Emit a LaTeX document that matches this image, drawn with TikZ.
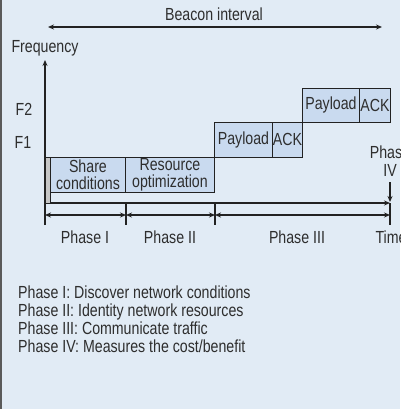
\documentclass[tikz,border=0pt]{standalone}
\usepackage{fontspec}
\setmainfont{Liberation Sans}[FakeStretch=0.81]
\usetikzlibrary{arrows.meta}
\definecolor{panelbg}{HTML}{E1EBF5}
\definecolor{boxfill}{HTML}{C9DAEF}
\definecolor{ink}{HTML}{222222}
\definecolor{txt}{HTML}{2E2E2E}
\definecolor{edge}{HTML}{5A5A5A}
\begin{document}
\begin{tikzpicture}[x=1pt,y=-1pt,
  font=\fontsize{17.5}{18}\selectfont,
  every node/.style={text=txt},
  label/.style={inner sep=0pt, anchor=base},
  slot/.style={draw=ink, line width=0.9pt, fill=boxfill, inner sep=0pt,
    align=center, anchor=north west},
  axis/.style={draw=ink, line width=1.4pt, -{Stealth[length=6pt,width=5pt]}},
  span/.style={draw=ink, line width=1.4pt,
    {Stealth[length=6pt,width=5pt]}-{Stealth[length=6pt,width=5pt]}},
  tick/.style={draw=ink, line width=1.4pt}]
\useasboundingbox (0,0) rectangle (400,409);
\clip (0,0) rectangle (400,409);
% panel
\fill[panelbg] (0,0) rectangle (400,409);
\fill[edge] (0,0) rectangle (2,409);

% beacon interval
\node[label] (beacon) at (214,21) {Beacon interval};
\coordinate (bL) at (48,27);
\coordinate (bR) at (382,27);
\draw[span] (bL) -- (bR);

% axes
\node[label] (freq) at (45,53) {Frequency};
\coordinate (origin) at (45,203);
\coordinate (ftop) at (45,60);
\coordinate (fbot) at (45,225);
\coordinate (tend) at (390,203);
\draw[axis] (fbot) -- (ftop);
\draw[axis] (origin) -- (tend);
\node[label] (f2) at (24,115) {F2};
\node[label] (f1) at (23,148) {F1};

% slots
\filldraw[fill=gray!45, draw=ink, line width=0.8pt] (45,157) rectangle (50,203);
\node[slot, minimum width=75pt, minimum height=35pt] (share) at (50,157)
  {Share\\[-1pt]conditions};
\node[slot, minimum width=89pt, minimum height=35pt] (res) at (125,157)
  {Resource\\[-1pt]optimization};
\node[slot, minimum width=58pt, minimum height=35pt] (pay1) at (214,122) {Payload};
\node[slot, minimum width=30pt, minimum height=35pt] (ack1) at (272,122) {ACK};
\node[slot, minimum width=57pt, minimum height=34pt] (pay2) at (302,88) {Payload};
\node[slot, minimum width=31pt, minimum height=34pt] (ack2) at (359,88) {ACK};

% phase ticks and spans
\coordinate (t0) at (45,215);
\coordinate (t1) at (126,215);
\coordinate (t2) at (215,215);
\coordinate (t3) at (390,215);
\coordinate (k1a) at (126,203); \coordinate (k1b) at (126,225);
\coordinate (k2a) at (215,203); \coordinate (k2b) at (215,225);
\coordinate (k3a) at (390,203); \coordinate (k3b) at (390,225);
\draw[tick] (k1a) -- (k1b);
\draw[tick] (k2a) -- (k2b);
\draw[tick] (k3a) -- (k3b);
\draw[span] (t0) -- (t1);
\draw[span] (t1) -- (t2);
\draw[span] (t2) -- (t3);

% phase IV marker (base anchor sits on the last line)
\node[label, align=center, anchor=base] (p4) at (390,176) {Phase\\IV};
\coordinate (p4a) at (390,182);
\coordinate (p4b) at (390,202);
\draw[axis] (p4a) -- (p4b);

% phase labels
\node[label] (ph1) at (85,243) {Phase I};
\node[label] (ph2) at (170,243) {Phase II};
\node[label] (ph3) at (297,243) {Phase III};
\node[label] (time) at (391,243) {Time};

% legend (base anchor sits on the last line)
\node[inner sep=0pt, anchor=base west, align=left,
  font=\fontsize{17.5}{18.2}\selectfont] (legend) at (18,352.6)
  {Phase I: Discover network conditions\\
   Phase II: Identity network resources\\
   Phase III: Communicate traffic\\
   Phase IV: Measures the cost/benefit};
\end{tikzpicture}
\end{document}
